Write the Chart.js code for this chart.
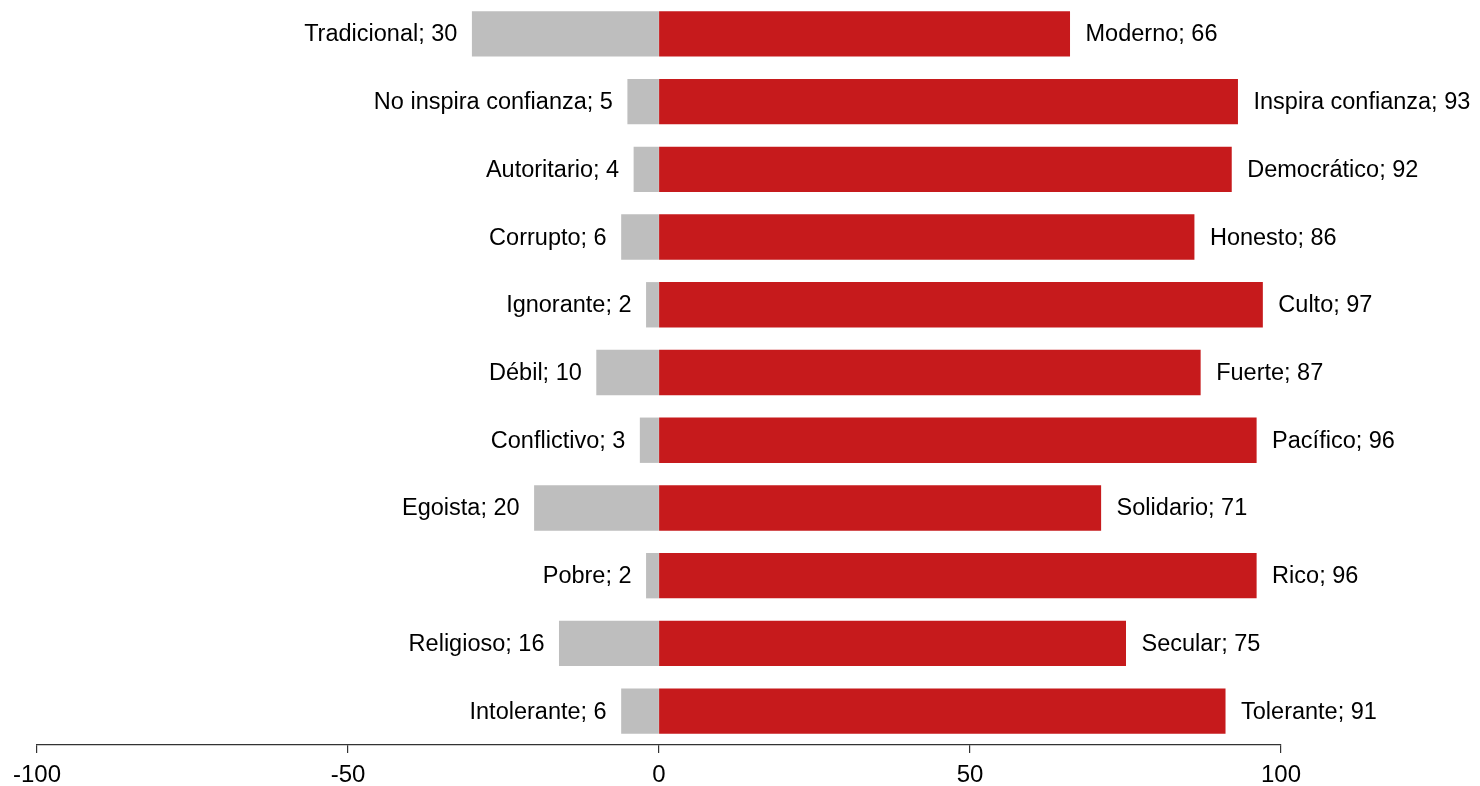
<!DOCTYPE html>
<html>
<head>
<meta charset="utf-8">
<script src="https://cdn.jsdelivr.net/npm/chart.js@4/dist/chart.umd.min.js"></script>
<style>
  html, body { margin: 0; padding: 0; background: #fff; }
  #chart { display: block; }
</style>
</head>
<body>
<canvas id="chart" width="1480" height="786"></canvas>
<script>
// pares de atributos (izquierda = negativo, derecha = positivo)
const leftNames = ['Tradicional', 'No inspira confianza', 'Autoritario', 'Corrupto', 'Ignorante',
  'Débil', 'Conflictivo', 'Egoista', 'Pobre', 'Religioso', 'Intolerante'];
const rightNames = ['Moderno', 'Inspira confianza', 'Democrático', 'Honesto', 'Culto',
  'Fuerte', 'Pacífico', 'Solidario', 'Rico', 'Secular', 'Tolerante'];
const leftValues = [30, 5, 4, 6, 2, 10, 3, 20, 2, 16, 6];
const rightValues = [66, 93, 92, 86, 97, 87, 96, 71, 96, 75, 91];
const xTicks = [-100, -50, 0, 50, 100];

const FONT = '"Liberation Sans", Arial, sans-serif';

// etiquetas "Nombre; valor" al lado de cada barra
const barLabels = {
  id: 'barLabels',
  afterDatasetsDraw(chart) {
    const ctx = chart.ctx;
    const leftMeta = chart.getDatasetMeta(0);
    const rightMeta = chart.getDatasetMeta(1);
    ctx.save();
    ctx.font = '23.5px ' + FONT;
    ctx.fillStyle = '#000';
    ctx.textBaseline = 'middle';
    leftMeta.data.forEach((bar, i) => {
      ctx.textAlign = 'right';
      ctx.fillText(`${leftNames[i]}; ${leftValues[i]}`, bar.x - 15, bar.y + 1);
    });
    rightMeta.data.forEach((bar, i) => {
      ctx.textAlign = 'left';
      ctx.fillText(`${rightNames[i]}; ${rightValues[i]}`, bar.x + 16, bar.y + 1);
    });
    ctx.restore();
  }
};

new Chart(document.getElementById('chart'), {
  type: 'bar',
  data: {
    labels: rightNames,
    datasets: [{
      label: 'izquierda',
      data: leftValues.map(v => -v),
      backgroundColor: '#BEBEBE',
      borderWidth: 0,
      inflateAmount: 0.5
    }, {
      label: 'derecha',
      data: rightValues,
      backgroundColor: '#C61A1C',
      borderWidth: 0,
      inflateAmount: 0.5
    }]
  },
  options: {
    indexAxis: 'y',
    responsive: false,
    animation: false,
    barPercentage: 0.655,
    categoryPercentage: 1,
    layout: { padding: { left: 37, right: 199, top: 0, bottom: 0 } },
    plugins: {
      legend: { display: false },
      tooltip: { enabled: false }
    },
    scales: {
      x: {
        stacked: true,
        min: -100,
        max: 100,
        afterBuildTicks(axis) {
          axis.ticks = xTicks.map(v => ({ value: v }));
        },
        afterFit(axis) { axis.height = 41; },
        grid: { drawOnChartArea: false, drawTicks: true, tickLength: 8, color: '#333', lineWidth: 1.2 },
        border: { display: true, color: '#333', width: 1.2 },
        ticks: {
          color: '#000',
          padding: 8,
          maxRotation: 0,
          font: { family: FONT, size: 24 }
        }
      },
      y: {
        stacked: true,
        display: false
      }
    }
  },
  plugins: [barLabels]
});
</script>
</body>
</html>
